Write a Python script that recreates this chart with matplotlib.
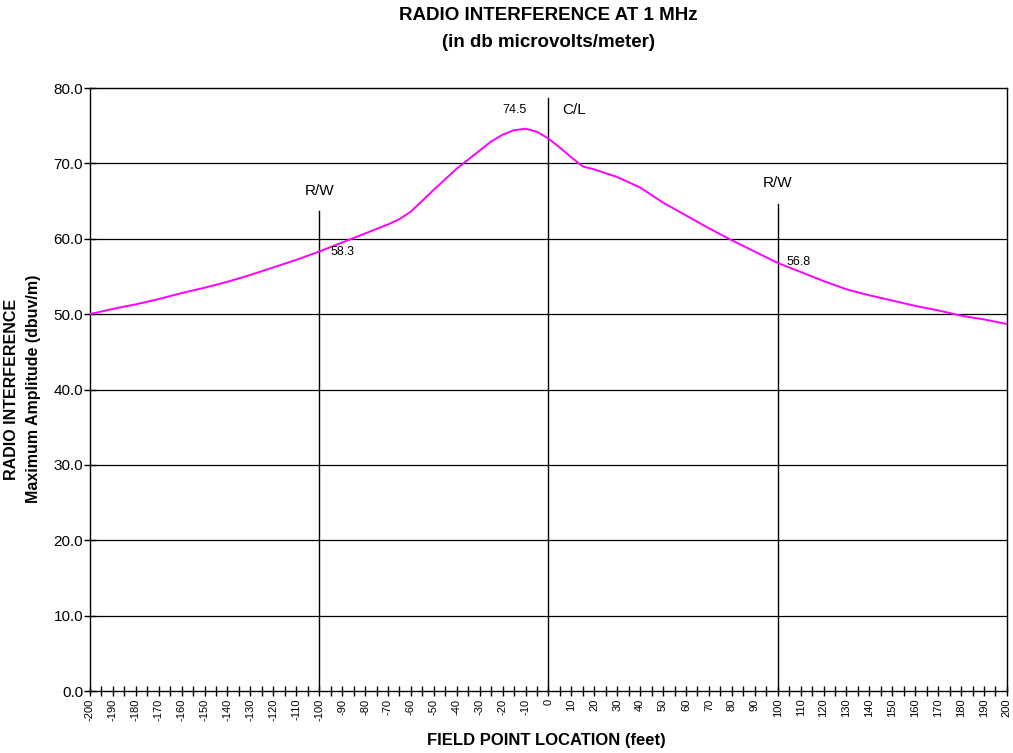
import matplotlib
matplotlib.use("Agg")
import matplotlib.pyplot as plt
import numpy as np

plt.rcParams['font.family'] = ['Liberation Sans', 'DejaVu Sans']

# field point location (feet) and radio interference (dbuv/m)
location = [-200, -190, -180, -170, -160, -150, -140, -130, -120, -110,
            -100, -90, -80, -70, -65, -60, -50, -40, -30, -25, -20, -15, -10,
            -5, 0, 5, 10, 15, 20, 30, 40, 50, 60, 70, 80, 90, 100, 110, 120,
            130, 140, 150, 160, 170, 180, 190, 200]
amplitude = [50.0, 50.7, 51.3, 52.0, 52.8, 53.5, 54.3, 55.2, 56.2, 57.2,
             58.3, 59.5, 60.7, 61.9, 62.6, 63.6, 66.5, 69.3, 71.7, 72.9, 73.8, 74.4, 74.6,
             74.2, 73.3, 72.1, 70.8, 69.6, 69.2, 68.2, 66.8, 64.8, 63.1, 61.4, 59.8, 58.3,
             56.8, 55.6, 54.4, 53.3, 52.5, 51.8, 51.1, 50.5, 49.8, 49.3, 48.7]

# reference lines: right-of-way edges and centre line
ref_x = [-100, 0, 100]
ref_top = [63.7, 78.7, 64.6]

fig = plt.figure(figsize=(10.13, 7.53), dpi=100)
ax = fig.add_axes([0.0888, 0.0823, 0.9052, 0.8008])

for y in range(10, 80, 10):
    ax.axhline(y, color='black', lw=0.9, zorder=1)
for x, top in zip(ref_x, ref_top):
    ax.plot([x, x], [0, top], color='black', lw=1.0, zorder=2)

ax.plot(location, amplitude, color='#FF00FF', lw=1.4, zorder=3,
        solid_joinstyle='round')

ax.text(-100, 66.4, "R/W", ha='center', va='center', fontsize=11)
ax.text(100, 67.4, "R/W", ha='center', va='center', fontsize=11)
ax.text(6, 77.1, "C/L", ha='left', va='center', fontsize=11)
ax.text(-15, 77.1, "74.5", ha='center', va='center', fontsize=9)
ax.text(-95, 58.2, "58.3", ha='left', va='center', fontsize=9)
ax.text(104, 56.9, "56.8", ha='left', va='center', fontsize=9)

ax.set_xlim(-200, 200)
ax.set_ylim(0, 80)
ax.set_xticks(np.arange(-200, 201, 10))
ax.set_xticklabels([str(v) for v in range(-200, 201, 10)], rotation=90, fontsize=8)
ax.set_xticks(np.arange(-195, 200, 10), minor=True)
ax.set_yticks(np.arange(0, 81, 10))
ax.set_yticklabels([f"{v:.1f}" for v in range(0, 81, 10)], fontsize=11)
ax.tick_params(axis='both', which='both', direction='inout', length=8, width=1, pad=2)
ax.tick_params(axis='x', which='both', length=7)
ax.tick_params(axis='y', pad=1)

for s in ax.spines.values():
    s.set_linewidth(1.0)
    s.set_color('black')

fig.text(0.5415, 0.980, "RADIO INTERFERENCE AT 1 MHz", ha='center', va='center',
         fontsize=13.5, fontweight='bold')
fig.text(0.5415, 0.944, "(in db microvolts/meter)", ha='center', va='center',
         fontsize=13.5, fontweight='bold')
fig.text(0.5395, 0.016, "FIELD POINT LOCATION (feet)", ha='center', va='center',
         fontsize=12, fontweight='bold')
fig.text(0.011, 0.483, "RADIO INTERFERENCE", ha='center', va='center', rotation=90,
         fontsize=11.5, fontweight='bold')
fig.text(0.033, 0.483, "Maximum Amplitude (dbuv/m)", ha='center', va='center', rotation=90,
         fontsize=11.5, fontweight='bold')

fig.savefig("out.png", dpi=100)
